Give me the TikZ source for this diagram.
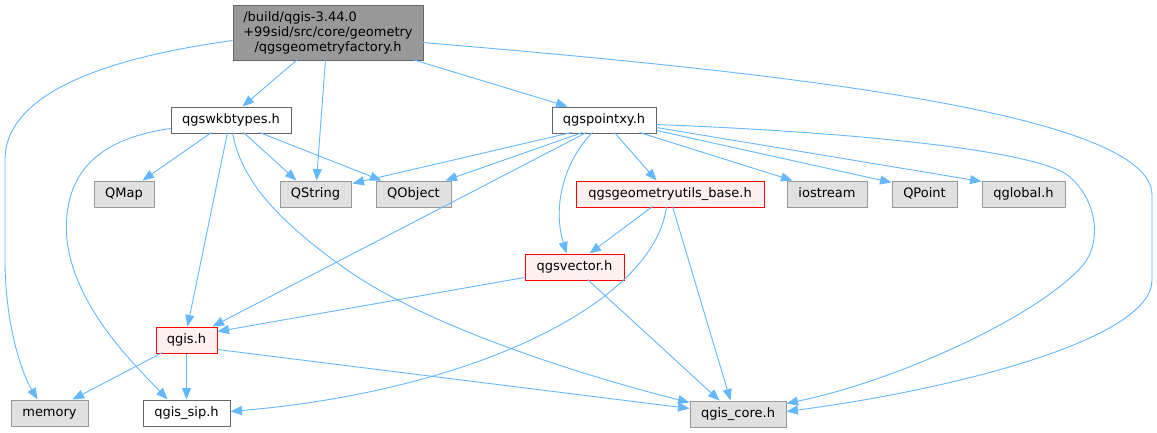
\documentclass[tikz,border=0pt]{standalone}
\usepackage{fontspec}
\setmainfont{DejaVu Sans}
\usetikzlibrary{arrows.meta,calc}
\definecolor{edgeblue}{HTML}{63B8FF}
\definecolor{darkborder}{HTML}{666666}
\definecolor{midgray}{HTML}{999999}
\definecolor{lightgray}{HTML}{E0E0E0}
\definecolor{palered}{HTML}{FFF0F0}
\definecolor{warnred}{HTML}{FF0000}
\begin{document}
\begin{tikzpicture}[x=1pt,y=-1pt,
  box/.style={draw, line width=1pt, inner sep=0pt, minimum height=26pt,
    font=\fontsize{13}{15}\selectfont, text=black},
  single/.style={box, text height=10pt, text depth=3pt},
  plainbox/.style={single, draw=darkborder, fill=white},
  sysbox/.style={single, draw=midgray, fill=lightgray},
  warnbox/.style={single, draw=warnred, fill=palered},
  mainbox/.style={box, draw=darkborder, fill=midgray, align=center},
  dep/.style={draw=edgeblue, line width=0.9pt, -{Triangle[length=11.5pt,width=9pt]}}]
\useasboundingbox[fill=white] (0,0) rectangle (1157,432);

% nodes
\node[mainbox, minimum width=190pt, minimum height=55pt] (top) at (328,32.5)
  {\begin{tabular}[b]{@{}l@{}}/build/qgis-3.44.0\\+99sid/src/core/geometry\end{tabular}\\/qgsgeometryfactory.h};
\node[plainbox, minimum width=120pt] (wkb) at (231,120) {qgswkbtypes.h};
\node[plainbox, minimum width=104pt] (pxy) at (604,120) {qgspointxy.h};
\node[sysbox, minimum width=60pt] (qmap) at (124,194) {QMap};
\node[sysbox, minimum width=71pt] (qstring) at (315.5,194) {QString};
\node[sysbox, minimum width=75pt] (qobject) at (413.5,194) {QObject};
\node[warnbox, minimum width=188pt] (utils) at (670,194) {qgsgeometryutils\_base.h};
\node[sysbox, minimum width=80pt] (iostream) at (827,194) {iostream};
\node[sysbox, minimum width=65pt] (qpoint) at (924.5,194) {QPoint};
\node[sysbox, minimum width=83pt] (qglobal) at (1023.5,194) {qglobal.h};
\node[warnbox, minimum width=99pt] (qvector) at (574.5,267) {qgsvector.h};
\node[warnbox, minimum width=61pt] (qgis) at (186.5,340) {qgis.h};
\node[sysbox, minimum width=77pt] (memory) at (49.5,413) {memory};
\node[plainbox, minimum width=87pt] (sip) at (186.5,413) {qgis\_sip.h};
\node[sysbox, minimum width=96pt] (core) at (738,414) {qgis\_core.h};

% edges from top node
\draw[dep] ($(top.north west)+(0,36)$) .. controls (150,52) and (5,80) .. (5,160)
  -- (5,260) .. controls (5,320) and (20,370) .. ($(memory.north west)+(27,0)$);
\draw[dep] ($(top.north west)+(65,55)$) -- ($(wkb.north west)+(72,0)$);
\draw[dep] ($(top.north west)+(93,55)$) -- ($(qstring.north west)+(37,0)$);
\draw[dep] ($(top.north west)+(180,55)$) -- ($(pxy.north west)+(16,0)$);
\draw[dep] ($(top.north west)+(190,38)$) .. controls (750,70) and (1152,110) .. (1152,195)
  -- (1152,280) .. controls (1152,340) and (950,390) .. ($(core.north east)+(0,11)$);

% edges from qgswkbtypes.h
\draw[dep] ($(wkb.north west)+(41,26)$) -- ($(qmap.north west)+(49,0)$);
\draw[dep] ($(wkb.north west)+(73,26)$) -- ($(qstring.north west)+(17,0)$);
\draw[dep] ($(wkb.north west)+(89,26)$) -- ($(qobject.north west)+(6,0)$);
\draw[dep] ($(wkb.north west)+(57,26)$) -- ($(qgis.north west)+(32,0)$);
\draw[dep] ($(wkb.north west)+(0,22)$) .. controls (90,140) and (62,180) .. (67,240)
  .. controls (75,310) and (140,370) .. ($(sip.north west)+(25,0)$);
\draw[dep] ($(wkb.north west)+(62,26)$) .. controls (240,175) and (270,215) .. (343,267)
  .. controls (430,330) and (600,380) .. ($(core.north west)+(0,2)$);

% edges from qgspointxy.h
\draw[dep] ($(pxy.north west)+(20,26)$) -- ($(qstring.north east)+(1,3)$);
\draw[dep] ($(pxy.north west)+(31,26)$) -- ($(qobject.north west)+(70,0)$);
\draw[dep] ($(pxy.north west)+(35,26)$) -- ($(qgis.north west)+(57,0)$);
\draw[dep] ($(pxy.north west)+(41,26)$) .. controls (565,160) and (552,205) .. ($(qvector.north west)+(42,0)$);
\draw[dep] ($(pxy.north west)+(63,26)$) -- ($(utils.north west)+(81,0)$);
\draw[dep] ($(pxy.north west)+(88,26)$) -- ($(iostream.north west)+(6,0)$);
\draw[dep] ($(pxy.north east)+(0,24)$) -- ($(qpoint.north west)+(0,2)$);
\draw[dep] ($(pxy.north east)+(0,21)$) -- ($(qglobal.north west)+(0,1)$);
\draw[dep] ($(pxy.north east)+(0,18)$) .. controls (850,132) and (1040,150) .. (1070,177)
  .. controls (1100,204) and (1100,245) .. (1083,265)
  .. controls (1040,315) and (900,380) .. ($(core.north east)+(0,3)$);

% edges from qgsgeometryutils_base.h
\draw[dep] ($(utils.north west)+(77,26)$) -- ($(qvector.north west)+(65,0)$);
\draw[dep] ($(utils.north west)+(97,26)$) -- ($(core.north west)+(41,0)$);
\draw[dep] ($(utils.north west)+(91,26)$) .. controls (655,300) and (480,390) .. ($(sip.north east)+(0,12)$);

% edges from qgsvector.h
\draw[dep] ($(qvector.north west)+(0,24)$) -- ($(qgis.north east)+(0,5)$);
\draw[dep] ($(qvector.north west)+(63,26)$) -- ($(core.north west)+(30,0)$);

% edges from qgis.h
\draw[dep] ($(qgis.north west)+(7,26)$) -- ($(memory.north west)+(62,0)$);
\draw[dep] (qgis.south) -- (sip.north);
\draw[dep] ($(qgis.north east)+(0,23)$) -- ($(core.north west)+(0,8)$);
\end{tikzpicture}
\end{document}
